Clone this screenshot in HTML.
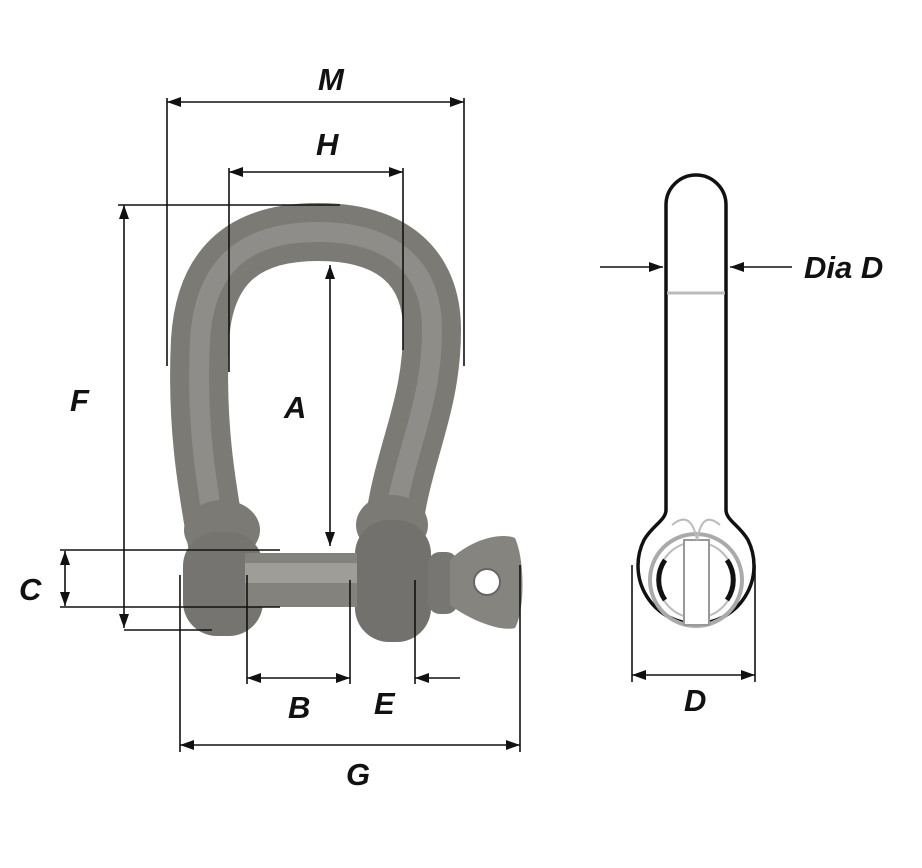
<!DOCTYPE html><html><head><style>body{margin:0;background:#fff}svg{display:block}text{font-family:"Liberation Sans",sans-serif;font-weight:bold;font-style:italic;font-size:31px;fill:#111}</style></head><body>
<svg width="922" height="868" viewBox="0 0 922 868" xmlns="http://www.w3.org/2000/svg">
<defs>
<marker id="a" viewBox="0 0 14 10" refX="14" refY="5" markerWidth="15" markerHeight="10" orient="auto-start-reverse" markerUnits="userSpaceOnUse"><path d="M0,0 L14,5 L0,10 z" fill="#111"/></marker>
</defs>
<!-- shackle bow -->
<path d="M220,560 C205,480 196,420 200,340 C205,260 250,232 318,232 C390,232 432,265 432,330 C432,420 392,470 392,560" fill="none" stroke="#7b7a75" stroke-width="58" stroke-linecap="round"/>
<path d="M220,560 C205,480 196,420 200,340 C205,260 250,232 318,232 C390,232 432,265 432,330 C432,420 392,470 392,560" fill="none" stroke="#979691" stroke-width="20" opacity=".7"/>
<ellipse cx="222" cy="530" rx="38" ry="30" fill="#7b7a75"/>
<ellipse cx="392" cy="525" rx="36" ry="30" fill="#7b7a75"/>
<!-- lugs -->
<rect x="183" y="532" width="80" height="104" rx="34" fill="#757470"/>
<rect x="355" y="520" width="76" height="122" rx="34" fill="#72716d"/>
<!-- pin -->
<rect x="245" y="553" width="112" height="54" fill="#83827d"/>
<rect x="245" y="563" width="112" height="20" fill="#9e9d98"/>
<rect x="428" y="552" width="30" height="62" rx="12" fill="#777672"/>
<path d="M450,560 C470,540 500,532 515,538 C525,560 525,610 515,628 C500,632 470,620 450,605 z" fill="#85847f"/>
<circle cx="487" cy="582" r="13" fill="#fff" stroke="#666" stroke-width="2"/>
<g stroke="#111" stroke-width="1.6" fill="none">
<line x1="167" y1="102" x2="464" y2="102" marker-start="url(#a)" marker-end="url(#a)"/>
<line x1="167" y1="98" x2="167" y2="366"/><line x1="464" y1="98" x2="464" y2="366"/>
<line x1="229" y1="172" x2="403" y2="172" marker-start="url(#a)" marker-end="url(#a)"/>
<line x1="229" y1="168" x2="229" y2="372"/><line x1="403" y1="168" x2="403" y2="350"/>
<line x1="118" y1="205" x2="340" y2="205"/><line x1="124" y1="630" x2="212" y2="630"/>
<line x1="124" y1="205" x2="124" y2="628" marker-start="url(#a)" marker-end="url(#a)"/>
<line x1="330" y1="265" x2="330" y2="546" marker-start="url(#a)" marker-end="url(#a)"/>
<line x1="60" y1="550" x2="280" y2="550"/><line x1="60" y1="607" x2="280" y2="607"/>
<line x1="65" y1="551" x2="65" y2="606" marker-start="url(#a)" marker-end="url(#a)"/>
<line x1="247" y1="575" x2="247" y2="684"/><line x1="350" y1="580" x2="350" y2="684"/><line x1="415" y1="580" x2="415" y2="684"/>
<line x1="247" y1="678" x2="350" y2="678" marker-start="url(#a)" marker-end="url(#a)"/>
<line x1="460" y1="678" x2="415" y2="678" marker-end="url(#a)"/>
<line x1="180" y1="575" x2="180" y2="752"/><line x1="520" y1="565" x2="520" y2="752"/>
<line x1="180" y1="745" x2="520" y2="745" marker-start="url(#a)" marker-end="url(#a)"/>
<line x1="600" y1="267" x2="663" y2="267" marker-end="url(#a)"/>
<line x1="792" y1="267" x2="730" y2="267" marker-end="url(#a)"/>
<line x1="632" y1="565" x2="632" y2="682"/><line x1="755" y1="565" x2="755" y2="682"/>
<line x1="632" y1="675" x2="755" y2="675" marker-start="url(#a)" marker-end="url(#a)"/>
</g>
<path d="M666,205 A30,30 0 0 1 726,205 L726,510 C726,520 740,526 748,540 A58,58 0 1 1 644,540 C652,526 666,520 666,510 Z" fill="#fff" stroke="#111" stroke-width="3.5"/>
<line x1="667" y1="293" x2="725" y2="293" stroke="#bbb" stroke-width="3"/>
<circle cx="696" cy="580" r="46" fill="none" stroke="#aaa" stroke-width="4"/>
<circle cx="696" cy="580" r="38" fill="none" stroke="#bbb" stroke-width="2"/>
<rect x="684" y="540" width="25" height="85" fill="#fff" stroke="#999" stroke-width="2"/>
<path d="M665,560 A35,35 0 0 0 665,600" fill="none" stroke="#111" stroke-width="5"/>
<path d="M727,560 A35,35 0 0 1 727,600" fill="none" stroke="#111" stroke-width="5"/>
<path d="M672,525 C690,510 695,530 697,540 C700,525 705,512 720,525" fill="none" stroke="#bbb" stroke-width="2"/>
<text x="318" y="90">M</text>
<text x="316" y="155">H</text>
<text x="70" y="411">F</text>
<text x="284" y="418">A</text>
<text x="19" y="600">C</text>
<text x="288" y="718">B</text>
<text x="374" y="714">E</text>
<text x="346" y="785">G</text>
<text x="804" y="278">Dia D</text>
<text x="684" y="711">D</text>
</svg></body></html>
